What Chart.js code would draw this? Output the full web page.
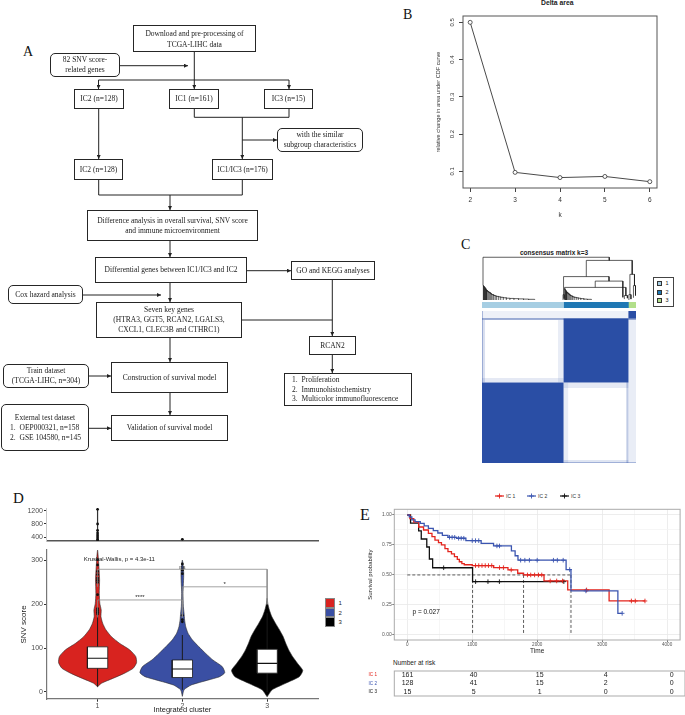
<!DOCTYPE html>
<html>
<head>
<meta charset="utf-8">
<title>SNV score clusters</title>
<script src="https://cdn.jsdelivr.net/npm/chart.js@4.4.1/dist/chart.umd.min.js"></script>
<style>
  html, body { margin: 0; padding: 0; background: #fff; }
  body { position: relative; width: 685px; height: 715px; overflow: hidden;
         font-family: 'Liberation Sans', Arial, sans-serif; color: #222; }
  canvas { position: absolute; }
  .box { position: absolute; box-sizing: border-box; border: 1.1px solid #262626; background: #fff;
         display: flex; flex-direction: column; align-items: center; justify-content: center;
         text-align: center; font-family: 'Liberation Serif', 'Times New Roman', serif;
         font-size: 7.5px; line-height: 10px; color: #1a1a1a; white-space: nowrap;
         filter: grayscale(1); }
  .rnd { border-radius: 5px; border-width: 1.3px; }
  .list { align-items: flex-start; padding-left: 3px; }
  .num { display: inline-block; width: 13.5px; }
  .left { align-self: flex-start; padding-left: 4px; }
  .panel { position: absolute; font-family: 'Liberation Serif', 'Times New Roman', serif; line-height: 1; color: #111; }
  .txt { position: absolute; white-space: nowrap; line-height: 1; }
  .key { position: absolute; box-sizing: border-box; }
</style>
</head>
<body>

<!-- ── Panel A: flow chart ─────────────────────────────────── -->
<svg style="position:absolute;left:0;top:0" width="420" height="460">
  <defs>
    <marker id="ah" markerWidth="4" markerHeight="4" refX="4" refY="2" orient="auto" markerUnits="userSpaceOnUse">
      <path d="M0,0 L4,2 L0,4 z" fill="#222"/>
    </marker>
  </defs>
  <g stroke="#222" stroke-width="1" fill="none">
    <path d="M194.3 52 V89" marker-end="url(#ah)"/>
    <path d="M120 65.7 H188" marker-end="url(#ah)"/>
    <path d="M98.5 80 H289"/>
    <path d="M98.5 80 V89" marker-end="url(#ah)"/>
    <path d="M289 80 V89" marker-end="url(#ah)"/>
    <path d="M194.3 109 V117.3 H289 V109"/>
    <path d="M242.3 117.3 V159" marker-end="url(#ah)"/>
    <path d="M242.3 140 H277" marker-end="url(#ah)"/>
    <path d="M98.7 109 V159" marker-end="url(#ah)"/>
    <path d="M98.7 180 V195 H242.3 V180"/>
    <path d="M170 195 V210" marker-end="url(#ah)"/>
    <path d="M170 241 V257" marker-end="url(#ah)"/>
    <path d="M247 270.7 H291" marker-end="url(#ah)"/>
    <path d="M83 295 H161" marker-end="url(#ah)"/>
    <path d="M170 283 V302" marker-end="url(#ah)"/>
    <path d="M242 320 H332.3"/>
    <path d="M332.3 280 V336" marker-end="url(#ah)"/>
    <path d="M332.3 355 V373" marker-end="url(#ah)"/>
    <path d="M170 338 V362" marker-end="url(#ah)"/>
    <path d="M89 376 H111" marker-end="url(#ah)"/>
    <path d="M170 393 V415" marker-end="url(#ah)"/>
    <path d="M89 428.3 H111" marker-end="url(#ah)"/>
  </g>
</svg>

<div class="box" style="left:133px;top:25px;width:123px;height:27px;line-height:11px">Download and pre-processing of<br>TCGA-LIHC data</div>
<div class="box rnd" style="left:50px;top:53px;width:70px;height:24px">82 SNV score-<br>related genes</div>
<div class="box" style="left:74px;top:89px;width:50px;height:20px">IC2 (n=128)</div>
<div class="box" style="left:169px;top:89px;width:50px;height:20px">IC1 (n=161)</div>
<div class="box" style="left:264px;top:89px;width:49px;height:20px">IC3 (n=15)</div>
<div class="box rnd" style="left:277px;top:128px;width:86px;height:24px">with the similar<br>subgroup characteristics</div>
<div class="box" style="left:74px;top:159px;width:49px;height:21px">IC2 (n=128)</div>
<div class="box" style="left:212px;top:159px;width:61px;height:21px">IC1/IC3 (n=176)</div>
<div class="box" style="left:87px;top:210px;width:171px;height:31px">Difference analysis in overall survival, SNV score<br>and immune microenvironment</div>
<div class="box" style="left:95px;top:257px;width:152px;height:26px">Differential genes between IC1/IC3 and IC2</div>
<div class="box" style="left:291px;top:261px;width:84px;height:19px">GO and KEGG analyses</div>
<div class="box rnd" style="left:8px;top:285px;width:75px;height:19px">Cox hazard analysis</div>
<div class="box" style="left:96px;top:302px;width:146px;height:36px">Seven key genes<br>(HTRA3, GGT5, RCAN2, LGALS3,<br>CXCL1, CLEC3B and CTHRC1)</div>
<div class="box" style="left:309px;top:336px;width:47px;height:19px">RCAN2</div>
<div class="box list" style="left:284px;top:373px;width:128px;height:33px;line-height:9.5px">
  <div><span class="num">1.</span>Proliferation</div>
  <div><span class="num">2.</span>Immunohistochemistry</div>
  <div><span class="num">3.</span>Multicolor immunofluorescence</div>
</div>
<div class="box rnd" style="left:3px;top:364px;width:86px;height:24px">Train dataset<br>(TCGA-LIHC, n=304)</div>
<div class="box" style="left:111px;top:362px;width:117px;height:31px">Construction of survival model</div>
<div class="box rnd" style="left:1px;top:404px;width:88px;height:47px">
  <div>External test dataset</div>
  <div class="left"><span class="num">1.</span>OEP000321, n=158</div>
  <div class="left"><span class="num">2.</span>GSE 104580, n=145</div>
</div>
<div class="box" style="left:111px;top:415px;width:117px;height:26px">Validation of survival model</div>

<div class="panel" style="left:23px;top:44.5px;font-size:14px">A</div>
<div class="panel" style="left:403px;top:7.5px;font-size:14px">B</div>
<div class="panel" style="left:461px;top:237.5px;font-size:14px">C</div>
<div class="panel" style="left:13px;top:490.5px;font-size:15px">D</div>
<div class="panel" style="left:360px;top:507px;font-size:16px">E</div>

<!-- titles -->
<div class="txt" style="left:541px;top:-0.5px;font-size:6.8px;font-weight:bold;color:#222">Delta area</div>
<div class="txt" style="left:520px;top:250px;font-size:6.5px;font-weight:bold;color:#222">consensus matrix k=3</div>

<!-- C legend -->
<div class="key" style="left:653px;top:277px;width:21px;height:30px;border:0.8px solid #444"></div>
<div class="key" style="left:657px;top:281px;width:5px;height:5px;border:0.6px solid #333;background:#a6cee3"></div>
<div class="key" style="left:657px;top:289.5px;width:5px;height:5px;border:0.6px solid #333;background:#1f78b4"></div>
<div class="key" style="left:657px;top:298px;width:5px;height:5px;border:0.6px solid #333;background:#b2df8a"></div>
<div class="txt" style="left:665.5px;top:281px;font-size:5.5px">1</div>
<div class="txt" style="left:665.5px;top:289.5px;font-size:5.5px">2</div>
<div class="txt" style="left:665.5px;top:298px;font-size:5.5px">3</div>

<!-- D legend -->
<div class="key" style="left:325px;top:598.3px;width:9.5px;height:9.5px;border:0.6px solid #888;background:#d8231f"></div>
<div class="key" style="left:325px;top:607.8px;width:9.5px;height:9.5px;border:0.6px solid #888;background:#3a4fa3"></div>
<div class="key" style="left:325px;top:617.3px;width:9.5px;height:9.5px;border:0.6px solid #888;background:#000"></div>
<div class="txt" style="left:338.5px;top:600px;font-size:6px">1</div>
<div class="txt" style="left:338.5px;top:609.5px;font-size:6px">2</div>
<div class="txt" style="left:338.5px;top:619px;font-size:6px">3</div>

<!-- E legend -->
<svg style="position:absolute;left:495px;top:492px" width="9" height="8"><line x1="0" y1="4" x2="9" y2="4" stroke="#e3241d" stroke-width="1.2"/><path d="M4.5 1.5 V6.5 M2 4 H7" stroke="#e3241d" stroke-width="0.9"/></svg>
<svg style="position:absolute;left:527px;top:492px" width="9" height="8"><line x1="0" y1="4" x2="9" y2="4" stroke="#3b55b0" stroke-width="1.2"/><path d="M4.5 1.5 V6.5 M2 4 H7" stroke="#3b55b0" stroke-width="0.9"/></svg>
<svg style="position:absolute;left:560px;top:492px" width="9" height="8"><line x1="0" y1="4" x2="9" y2="4" stroke="#111" stroke-width="1.2"/><path d="M4.5 1.5 V6.5 M2 4 H7" stroke="#111" stroke-width="0.9"/></svg>
<div class="txt" style="left:506px;top:493.5px;font-size:5px;color:#333">IC 1</div>
<div class="txt" style="left:538px;top:493.5px;font-size:5px;color:#333">IC 2</div>
<div class="txt" style="left:571px;top:493.5px;font-size:5px;color:#333">IC 3</div>
<div class="txt" style="left:393px;top:659.5px;font-size:6.5px;color:#222">Number at risk</div>

<script>
// ── Panel B: delta area ───────────────────────────────────────
const bK      = [2, 3, 4, 5, 6];
const bDelta  = [0.5, 0.097, 0.083, 0.086, 0.072];
const bYTicks = [0.1, 0.2, 0.3, 0.4, 0.5];

// ── Panel C: consensus matrix ─────────────────────────────────
const cSizes  = [161, 128, 15];
const cColors = ['#a6cee3', '#1f78b4', '#b2df8a'];
// [col from, col to, row from, row to, consensus]
const hmBlocks = [
    [289, 304, 0, 289, 0.1],
    [0, 289, 289, 304, 0.08],
    [0, 304, 286, 290, 0.45],
    [285, 289, 0, 286, 0.3],
    [0, 6, 161, 286, 0.18],
    [0, 161, 161, 170, 0.12],
    [161, 289, 150, 161, 0.12],
    [161, 289, 0, 6, 0.15],
    [150, 161, 161, 286, 0.1],
    [161, 170, 0, 161, 0.1],
    [0, 2, 0, 304, 0.35],
    [0, 304, 0, 2, 0.35],
    [0, 161, 0, 161, 1],
    [161, 289, 161, 289, 1],
    [289, 304, 289, 304, 1]
];
// dendrogram: [left x, right x, height, left child height, right child height]
const dendroMerges = [
    [163, 284, 0.28, 0.25, 0.10],
    [281, 287, 0.10, 0.02, 0.04],
    [223.5, 278, 0.42, 0.28, 0.06],
    [160, 162, 0.12, 0.0, 0.03],
    [161, 250.75, 0.52, 0.12, 0.42],
    [290, 294, 0.12, 0.0, 0.02],
    [299, 303, 0.32, 0.05, 0.10],
    [292, 301, 0.57, 0.12, 0.32],
    [205.9, 296.5, 0.88, 0.52, 0.57],
    [2, 251.2, 0.95, 0.33, 0.88]
];
const combX1 = [2, 3, 4, 5, 6, 7, 8, 9, 10, 12, 14, 16, 18, 20, 23, 26, 29, 33, 37, 42, 48, 55, 63, 72, 82, 92, 104];
const combH1 = [0.33, 0.31, 0.30, 0.28, 0.27, 0.25, 0.23, 0.22, 0.20, 0.18, 0.17, 0.15, 0.13, 0.12, 0.10, 0.09, 0.08, 0.07, 0.06, 0.05, 0.04, 0.035, 0.03, 0.025, 0.02, 0.015, 0.01];
const combX2 = [163, 164, 165, 166, 167, 168, 170, 172, 174, 176, 179, 182, 186, 190, 195, 201, 208, 216];
const combH2 = [0.25, 0.23, 0.21, 0.20, 0.18, 0.16, 0.14, 0.12, 0.10, 0.09, 0.07, 0.06, 0.05, 0.04, 0.03, 0.02, 0.015, 0.01];

// ── Panel D: SNV score by cluster ─────────────────────────────
const dClusters = [1, 2, 3];
const dColors   = ['#d8231f', '#3a4fa3', '#000000'];
const dYTicks   = [0, 100, 200, 300];
const dTopTicks = [400, 800, 1200];
const violinY1 = [12, 20, 31, 43, 54, 67, 81, 96, 111, 126, 142, 157, 172, 187, 202, 225, 256, 286, 309, 324];
const violinW1 = [0, 0.047, 0.18, 0.32, 0.42, 0.46, 0.45, 0.38, 0.26, 0.165, 0.098, 0.06, 0.04, 0.043, 0.027, 0.02, 0.024, 0.016, 0.008, 0];
const violinY2 = [-10, 5, 16, 27, 35, 44, 58, 73, 88, 103, 119, 134, 149, 164, 180, 195, 225, 271, 301];
const violinW2 = [0, 0.02, 0.106, 0.30, 0.44, 0.50, 0.47, 0.36, 0.275, 0.196, 0.118, 0.067, 0.04, 0.027, 0.02, 0.012, 0.008, 0.016, 0];
const violinY3 = [-11, 5, 20, 35, 49, 65, 81, 96, 111, 126, 142, 157, 172, 187, 202, 214];
const violinW3 = [0, 0.06, 0.22, 0.38, 0.42, 0.36, 0.30, 0.255, 0.22, 0.19, 0.145, 0.098, 0.055, 0.027, 0.008, 0];
const boxLow    = [54, 33, 43];
const boxMedian = [77, 52.5, 65.5];
const boxHigh   = [103, 73, 97.5];
const whiskLow  = [12, 5, 0];
const whiskHigh = [175, 130, 180];
const outliers1 = [178, 182, 186, 190, 222, 250, 255, 260, 268, 275, 290, 302];
const outliers2 = [160, 165, 175, 270, 278, 292];
const topOutliers1 = [1250, 800, 600, 520, 460, 400, 340, 300];
const topOutliers2 = [330];
// [from cluster, to cluster, height]
const brackets      = [[1, 3, 280], [2, 3, 240], [1, 2, 210]];
const bracketLabels = ['ns', '*', '****'];

// ── Panel E: Kaplan-Meier ─────────────────────────────────────
const kmTimeTicks = [0, 500, 1000, 1500, 2000, 2500, 3000, 3500, 4000];
const kmProbTicks = [0, 0.125, 0.25, 0.375, 0.5, 0.625, 0.75, 0.875, 1];
const km1T = [0, 40, 100, 175, 250, 325, 380, 426, 480, 526, 580, 626, 680, 726, 770, 801, 840, 877, 1000, 1330, 1550, 1700, 1790, 2105, 2470, 3107, 3659];
const km1S = [1, 0.97, 0.94, 0.90, 0.875, 0.847, 0.82, 0.79, 0.77, 0.75, 0.72, 0.694, 0.675, 0.653, 0.63, 0.61, 0.595, 0.585, 0.578, 0.561, 0.542, 0.514, 0.50, 0.45, 0.375, 0.283, 0.283];
const km2T = [0, 30, 70, 120, 200, 260, 325, 400, 470, 540, 626, 760, 902, 1137, 1328, 1603, 1660, 1704, 2445, 2520, 3242, 3308];
const km2S = [1, 0.985, 0.96, 0.945, 0.93, 0.91, 0.889, 0.87, 0.85, 0.83, 0.814, 0.806, 0.786, 0.764, 0.742, 0.70, 0.66, 0.623, 0.545, 0.367, 0.18, 0.18];
const km3T = [0, 50, 175, 215, 300, 340, 390, 1005, 2410];
const km3S = [1, 0.933, 0.867, 0.80, 0.733, 0.633, 0.56, 0.444, 0.444];
const cen1T = [1050, 1100, 1150, 1200, 1250, 1300, 1420, 1480, 1600, 1850, 1900, 1960, 2020, 2070, 2200, 2300, 2390, 2760, 3450, 3510, 3659];
const cen1S = [0.578, 0.578, 0.578, 0.578, 0.578, 0.578, 0.561, 0.561, 0.542, 0.5, 0.5, 0.5, 0.5, 0.5, 0.45, 0.45, 0.45, 0.375, 0.283, 0.283, 0.283];
const cen2T = [650, 690, 730, 790, 830, 870, 1000, 1050, 1100, 1380, 1420, 1745, 1810, 1880, 2000, 2250, 2310, 2400, 2500, 2750, 3308];
const cen2S = [0.814, 0.814, 0.814, 0.806, 0.806, 0.806, 0.786, 0.786, 0.786, 0.742, 0.742, 0.623, 0.623, 0.623, 0.623, 0.623, 0.623, 0.623, 0.545, 0.367, 0.18];
const cen3T = [560, 1052, 1242, 1418, 2410];
const cen3S = [0.56, 0.444, 0.444, 0.444, 0.444];
const kmMedians = [1005, 1790, 2520];
const kmColors  = ['#e3241d', '#3b55b0', '#111111'];
const riskGroups = ['IC 1', 'IC 2', 'IC 3'];
const riskTimes  = [0, 1000, 2000, 3000, 4000];
const risk1 = [161, 40, 15, 4, 0];
const risk2 = [128, 41, 15, 2, 0];
const risk3 = [15, 5, 1, 0, 0];

// ── Defaults & helpers ────────────────────────────────────────
Chart.defaults.font.family = "'Liberation Sans', Arial, sans-serif";
Chart.defaults.color = '#333';
Chart.defaults.animation = false;
Chart.defaults.plugins.legend.display = false;
Chart.defaults.plugins.tooltip.enabled = false;
Chart.defaults.elements.point.radius = 0;
Chart.defaults.elements.line.tension = 0;

function makeCanvas(id, left, top, w, h) {
    const c = document.createElement('canvas');
    c.id = id;
    c.width = w;
    c.height = h;
    c.style.left = left + 'px';
    c.style.top = top + 'px';
    document.body.appendChild(c);
    return c;
}

// Chart.js paints dataset 0 last (on top); list datasets bottom-first and flip here
function layered(sets) {
    return sets.slice().reverse();
}

function fixW(w) {
    return s => { s.width = w; s.paddingLeft = s.paddingRight = s.paddingTop = s.paddingBottom = 0; };
}
function fixH(h) {
    return s => { s.height = h; s.paddingLeft = s.paddingRight = s.paddingTop = s.paddingBottom = 0; };
}
function setTicks(values) {
    return s => { s.ticks = values.map(v => ({ value: v })); };
}

function poly(pts, fillColor, border, bw, tension) {
    return { data: pts, fill: 'shape', backgroundColor: fillColor,
             borderColor: border || 'rgba(0,0,0,0)', borderWidth: bw || 0.01,
             pointRadius: 0, tension: tension || 0 };
}
function seg(pts, color, w, dash) {
    return { data: pts, fill: false, borderColor: color, borderWidth: w,
             borderDash: dash || [], pointRadius: 0 };
}
function rect(x0, x1, y0, y1, color) {
    return poly([{x: x0, y: y0}, {x: x1, y: y0}, {x: x1, y: y1}, {x: x0, y: y1}], color);
}
function dots(xs, ys, color, r) {
    return { data: xs.map((x, i) => ({x: x, y: ys[i]})), showLine: false,
             pointRadius: r, pointBackgroundColor: color, pointBorderColor: color, pointBorderWidth: 0 };
}

const framePlugin = {
    id: 'frame',
    afterDatasetsDraw(chart, args, o) {
        const {ctx, chartArea: a} = chart;
        ctx.save();
        ctx.strokeStyle = o.color || '#555';
        ctx.lineWidth = o.width || 1;
        ctx.strokeRect(a.left, a.top, a.right - a.left, a.bottom - a.top);
        ctx.restore();
    }
};

function textLayer(items) {
    return {
        id: 'textLayer',
        afterDatasetsDraw(chart) {
            const {ctx, scales} = chart;
            items.forEach(n => {
                ctx.save();
                ctx.font = n.font;
                ctx.fillStyle = n.color || '#222';
                ctx.textAlign = n.align || 'center';
                ctx.textBaseline = 'middle';
                ctx.fillText(n.text, scales.x.getPixelForValue(n.x), scales.y.getPixelForValue(n.y));
                ctx.restore();
            });
        }
    };
}

// ── Panel B chart ─────────────────────────────────────────────
const rotYTicks = {
    id: 'rotY',
    afterDraw(chart) {
        const {ctx} = chart;
        const s = chart.scales.y;
        ctx.save();
        ctx.font = "6px 'Liberation Sans', Arial";
        ctx.fillStyle = '#333';
        ctx.textAlign = 'center';
        ctx.textBaseline = 'middle';
        s.ticks.forEach(t => {
            ctx.save();
            ctx.translate(52, s.getPixelForValue(t.value));
            ctx.rotate(-Math.PI / 2);
            ctx.fillText(String(t.value), 0, 0);
            ctx.restore();
        });
        ctx.restore();
    }
};

new Chart(makeCanvas('chartB', 400, 0, 285, 230), {
    type: 'line',
    data: {
        datasets: [{
            data: bK.map((k, i) => ({x: k, y: bDelta[i]})),
            borderColor: '#4a4a4a', borderWidth: 1,
            pointRadius: 2, pointBorderWidth: 0.8,
            pointBorderColor: '#333', pointBackgroundColor: '#fff'
        }]
    },
    options: {
        responsive: false,
        layout: { padding: { top: 16, right: 28, left: 0, bottom: 0 } },
        scales: {
            x: {
                type: 'linear', min: 1.84, max: 6.16,
                afterBuildTicks: setTicks(bK), afterFit: fixH(42),
                grid: { drawOnChartArea: false, tickLength: 4, color: '#444' },
                border: { display: false },
                ticks: { font: { size: 6.5 }, color: '#333', padding: 4 },
                title: { display: true, text: 'k', font: { size: 6.5 }, color: '#333', padding: { top: 0, bottom: 11 } }
            },
            y: {
                min: 0.055, max: 0.517,
                afterBuildTicks: setTicks(bYTicks), afterFit: fixW(63),
                grid: { drawOnChartArea: false, tickLength: 4, color: '#444' },
                border: { display: false },
                ticks: { display: false },
                title: { display: true, text: 'relative change in area under CDF curve',
                         font: { size: 5.6 }, color: '#333', padding: { top: 35, bottom: 0 } }
            }
        },
        plugins: { frame: { color: '#555', width: 1 } }
    },
    plugins: [framePlugin, rotYTicks]
});

// ── Panel C charts ────────────────────────────────────────────
const hiddenXY = (xmax, ymax) => ({
    x: { type: 'linear', min: 0, max: xmax, display: false },
    y: { type: 'linear', min: 0, max: ymax, display: false }
});

const dendroSets = [];
function uShape(xl, xr, h, hl, hr) {
    dendroSets.push(seg([{x: xl, y: hl}, {x: xl, y: h}, {x: xr, y: h}, {x: xr, y: hr}], '#1a1a1a', 0.7));
}
[[combX1, combH1], [combX2, combH2]].forEach(([xs, hs]) => {
    for (let i = 0; i < xs.length - 1; i++) uShape(xs[i], xs[i + 1], hs[i], 0, hs[i + 1]);
});
dendroMerges.forEach(m => uShape(m[0], m[1], m[2], m[3], m[4]));

new Chart(makeCanvas('chartDendro', 482, 255, 154, 45), {
    type: 'line',
    data: { datasets: dendroSets },
    options: { responsive: false, layout: { padding: 0 }, scales: hiddenXY(304, 1) }
});

let start = 0;
const barSets = cSizes.map((n, i) => {
    const d = { data: [[start, start + n]], backgroundColor: cColors[i], grouped: false,
                barPercentage: 1, categoryPercentage: 1, borderWidth: 0 };
    start += n;
    return d;
});
new Chart(makeCanvas('chartBar', 482, 302, 154, 6), {
    type: 'bar',
    data: { labels: ['cluster'], datasets: barSets },
    options: {
        indexAxis: 'y', responsive: false, layout: { padding: 0 },
        scales: { x: { type: 'linear', min: 0, max: 304, display: false }, y: { display: false } }
    }
});

new Chart(makeCanvas('chartHeat', 482, 311, 154, 152), {
    type: 'line',
    data: { datasets: layered(hmBlocks.map(b => rect(b[0], b[1], b[2], b[3], `rgba(42,78,165,${b[4]})`))) },
    options: { responsive: false, layout: { padding: 0 }, scales: hiddenXY(304, 304) }
});

// ── Panel D charts ────────────────────────────────────────────
function violinPts(c, ys, ws) {
    const right = ys.map((y, i) => ({x: c + ws[i], y: y}));
    const left  = ys.map((y, i) => ({x: c - ws[i], y: y})).reverse();
    return right.concat(left.slice(1));
}

const vY = [violinY1, violinY2, violinY3];
const vW = [violinW1, violinW2, violinW3];
const bw = 0.12;
const dSets = [];
dClusters.forEach((c, i) => dSets.push(poly(violinPts(c, vY[i], vW[i]), dColors[i], '#2b2b2b', 0.6, 0.2)));
dClusters.forEach((c, i) => dSets.push(seg([{x: c, y: whiskLow[i]}, {x: c, y: whiskHigh[i]}], '#1a1a1a', 1)));
dClusters.forEach((c, i) => {
    dSets.push(poly([{x: c - bw, y: boxLow[i]}, {x: c + bw, y: boxLow[i]}, {x: c + bw, y: boxHigh[i]}, {x: c - bw, y: boxHigh[i]}, {x: c - bw, y: boxLow[i]}],
                    '#ffffff', '#1a1a1a', 0.8));
    dSets.push(seg([{x: c - bw, y: boxMedian[i]}, {x: c + bw, y: boxMedian[i]}], '#111', 1.2));
});
dSets.push(dots(outliers1.map(() => 1), outliers1, '#111', 1.4));
dSets.push(dots(outliers2.map(() => 2), outliers2, '#111', 1.4));
brackets.forEach(b => dSets.push(seg([{x: b[0], y: b[2] - 40}, {x: b[0], y: b[2]}, {x: b[1], y: b[2]}, {x: b[1], y: b[2] - 40}], '#8c8c8c', 0.8)));

const dNotes = [
    { text: 'Kruskal-Wallis, p = 4.3e-11', x: 1.256, y: 303, font: "6px 'Liberation Sans', Arial" }
].concat(brackets.map((b, i) => ({ text: bracketLabels[i], x: (b[0] + b[1]) / 2, y: b[2] + 5,
                                      font: "6px 'Liberation Sans', Arial" })));

const axisLine = { display: true, color: '#777', width: 1.2 };

new Chart(makeCanvas('chartD', 0, 545, 360, 170), {
    type: 'line',
    data: { datasets: layered(dSets) },
    options: {
        responsive: false,
        layout: { padding: { top: 5, right: 42, left: 0, bottom: 0 } },
        scales: {
            x: {
                type: 'linear', min: 0.4, max: 3.6,
                afterBuildTicks: setTicks(dClusters), afterFit: fixH(16),
                grid: { drawOnChartArea: false, tickLength: 2.7, color: '#333' },
                border: axisLine,
                ticks: { font: { size: 7 }, color: '#4d4d4d', padding: 0.5, callback: v => String(v) },
                title: { display: true, text: 'Integrated cluster', font: { size: 7.5 }, color: '#222', padding: { top: 0, bottom: 0.3 } }
            },
            y: {
                min: -16, max: 324,
                afterBuildTicks: setTicks(dYTicks), afterFit: fixW(46.7),
                grid: { drawOnChartArea: false, tickLength: 2.7, color: '#333' },
                border: axisLine,
                ticks: { font: { size: 7 }, color: '#4d4d4d', padding: 1, callback: v => String(v) },
                title: { display: true, text: 'SNV score', font: { size: 8 }, color: '#222', padding: { top: 19, bottom: 0 } }
            }
        }
    },
    plugins: [textLayer(dNotes)]
});

new Chart(makeCanvas('chartDTop', 0, 503, 360, 42), {
    type: 'line',
    data: {
        datasets: layered([
            seg([{x: 1, y: 277}, {x: 1, y: 1250}], '#333', 1.2),
            dots(topOutliers1.map(() => 1), topOutliers1, '#111', 1.4),
            dots(topOutliers2.map(() => 2), topOutliers2, '#111', 1.4)
        ])
    },
    options: {
        responsive: false,
        layout: { padding: { top: 5, right: 42, left: 0, bottom: 0 } },
        scales: {
            x: {
                type: 'linear', min: 0.4, max: 3.6, afterFit: fixH(3.7),
                grid: { drawOnChartArea: false, drawTicks: false },
                border: { display: true, color: '#555', width: 1.5 },
                ticks: { display: false }
            },
            y: {
                min: 277, max: 1292,
                afterBuildTicks: setTicks(dTopTicks), afterFit: fixW(46.7),
                grid: { drawOnChartArea: false, tickLength: 2.7, color: '#333' },
                border: { display: true, color: '#c8c8c8', width: 1 },
                ticks: { font: { size: 7 }, color: '#4d4d4d', padding: 1, callback: v => String(v) }
            }
        }
    }
});

// ── Panel E charts ────────────────────────────────────────────
function kmLine(ts, ss, color) {
    return { data: ts.map((t, i) => ({x: t, y: ss[i]})), stepped: 'before',
             borderColor: color, borderWidth: 1.3, pointRadius: 0, fill: false };
}
function censor(ts, ss, color) {
    return { data: ts.map((t, i) => ({x: t, y: ss[i]})), showLine: false,
             pointStyle: 'cross', pointRadius: 2.3, pointBorderWidth: 0.9,
             pointBorderColor: color, borderColor: color };
}

const kmSets = [seg([{x: 0, y: 0.5}, {x: kmMedians[2], y: 0.5}], '#333', 0.8, [3, 2])];
kmMedians.forEach(m => kmSets.push(seg([{x: m, y: 0.5}, {x: m, y: 0}], '#333', 0.8, [3, 2])));
kmSets.push(kmLine(km3T, km3S, kmColors[2]), kmLine(km1T, km1S, kmColors[0]), kmLine(km2T, km2S, kmColors[1]));
kmSets.push(censor(cen3T, cen3S, kmColors[2]), censor(cen1T, cen1S, kmColors[0]), censor(cen2T, cen2S, kmColors[1]));

const isMajor = (v, step) => Math.abs(v / step - Math.round(v / step)) < 1e-6;

new Chart(makeCanvas('chartKM', 360, 485, 325, 175), {
    type: 'line',
    data: { datasets: layered(kmSets) },
    options: {
        responsive: false,
        layout: { padding: { top: 24.3, right: 0, left: 0, bottom: 0 } },
        scales: {
            x: {
                type: 'linear', min: -200, max: 4200,
                afterBuildTicks: setTicks(kmTimeTicks), afterFit: fixH(20),
                grid: {
                    color: c => (c.tick && isMajor(c.tick.value, 1000)) ? '#e8e8e8' : '#f4f4f4',
                    tickColor: c => (c.tick && isMajor(c.tick.value, 1000)) ? '#555' : 'rgba(0,0,0,0)',
                    tickLength: 2, lineWidth: 0.8
                },
                border: { display: false },
                ticks: { font: { size: 4.6 }, color: '#555', padding: 0,
                         callback: v => isMajor(v, 1000) ? String(v) : '' },
                title: { display: true, text: 'Time', font: { size: 6.5 }, color: '#222', padding: { top: 0, bottom: 4.4 } }
            },
            y: {
                min: -0.0425, max: 1.0475,
                afterBuildTicks: setTicks(kmProbTicks), afterFit: fixW(34.3),
                grid: {
                    color: c => (c.tick && isMajor(c.tick.value, 0.25)) ? '#e8e8e8' : '#f4f4f4',
                    tickColor: c => (c.tick && isMajor(c.tick.value, 0.25)) ? '#555' : 'rgba(0,0,0,0)',
                    tickLength: 2, lineWidth: 0.8
                },
                border: { display: false },
                ticks: { font: { size: 5 }, color: '#555', padding: 0.6,
                         callback: v => isMajor(v, 0.25) ? v.toFixed(2) : '' },
                title: { display: true, text: 'Survival probability', font: { size: 6 }, color: '#222', padding: { top: 6.4, bottom: 0 } }
            }
        },
        plugins: { frame: { color: '#ababab', width: 1 } }
    },
    plugins: [framePlugin, textLayer([{ text: 'p = 0.027', x: 80, y: 0.19, align: 'left',
                                       font: "6.5px 'Liberation Sans', Arial", color: '#111' }])]
});

const riskRows = [risk1, risk2, risk3];
const riskPlugin = {
    id: 'riskNumbers',
    afterDatasetsDraw(chart) {
        const {ctx, scales} = chart;
        ctx.save();
        ctx.font = "7px 'Liberation Sans', Arial";
        ctx.fillStyle = '#222';
        ctx.textAlign = 'center';
        ctx.textBaseline = 'middle';
        riskRows.forEach((row, i) => row.forEach((v, j) => {
            ctx.fillText(String(v), scales.x.getPixelForValue(riskTimes[j]), scales.y.getPixelForValue(i + 1));
        }));
        ctx.restore();
    }
};

new Chart(makeCanvas('chartRisk', 360, 660, 325, 40), {
    type: 'line',
    data: { datasets: [] },
    options: {
        responsive: false,
        layout: { padding: { top: 11, right: 0, left: 0, bottom: 4 } },
        scales: {
            x: { type: 'linear', min: -200, max: 4200, display: false },
            y: {
                type: 'linear', min: 0.5, max: 3.5, reverse: true,
                afterBuildTicks: setTicks([1, 2, 3]), afterFit: fixW(34.3),
                grid: { display: false },
                border: { display: false },
                ticks: { font: { size: 4.6 }, padding: 9.3,
                         color: c => kmColors[(c.tick ? c.tick.value : 1) - 1],
                         callback: v => riskGroups[v - 1] }
            }
        },
        plugins: { frame: { color: '#ababab', width: 1 } }
    },
    plugins: [framePlugin, riskPlugin]
});
</script>
</body>
</html>
